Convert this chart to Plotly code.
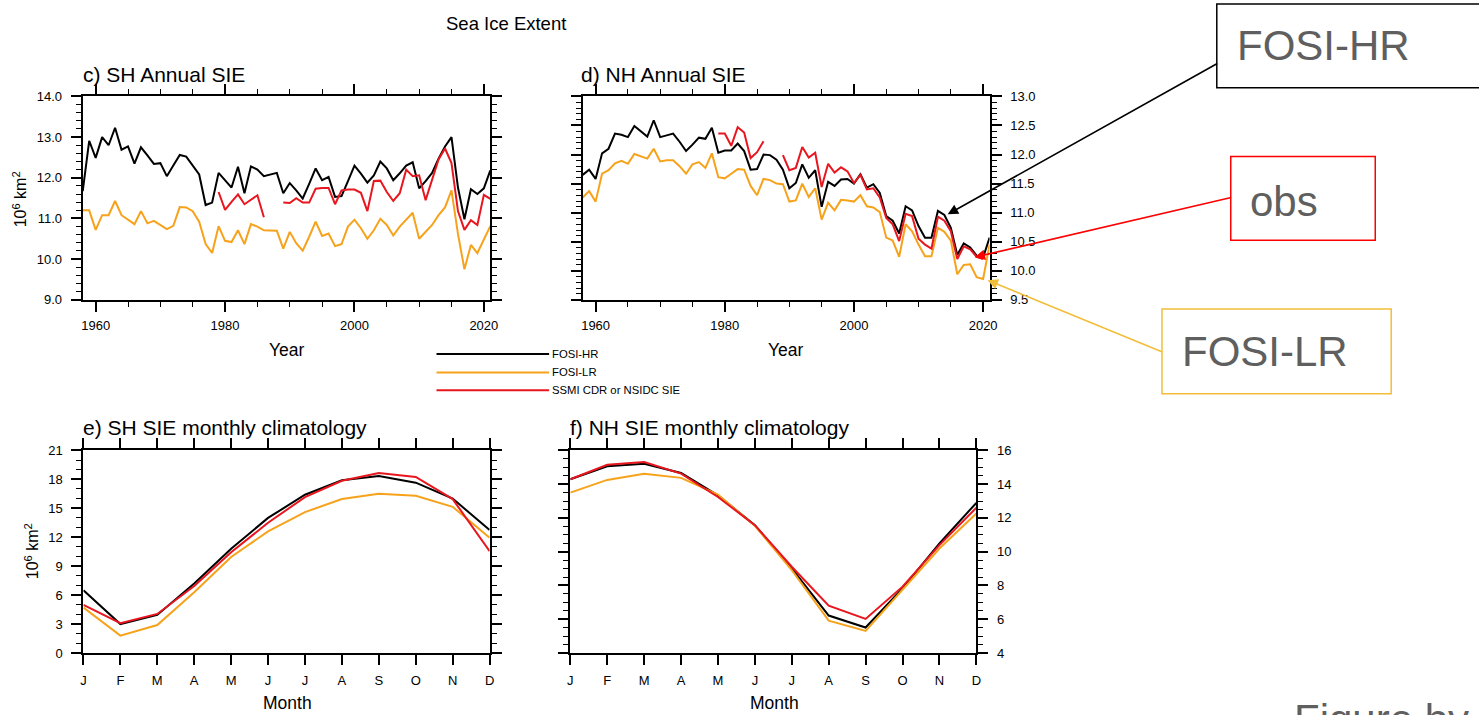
import plotly.graph_objects as go

W, H = 1479, 715
FONT = "Liberation Sans, Arial, Helvetica, sans-serif"

# small empirical correction between layout pixels and photographed pixels
SX, SY, OY = 0.996, 0.982, 7.0


def px(x):
    return (x / SX) / W


def py(y):
    return 1 - ((y - OY) / SY) / H


# ---------------- data ----------------
years = list(range(1958, 2022))

sh_hr = [11.67, 12.91, 12.49, 13.0, 12.8, 13.23, 12.69, 12.77, 12.35, 12.75,
         12.55, 12.34, 12.36, 12.04, 12.3, 12.56, 12.52, 12.3, 12.08, 11.33,
         11.39, 12.12, 11.94, 11.76, 12.27, 11.62, 12.28, 12.2, 12.04, 12.08,
         12.12, 11.62, 11.87, 11.69, 11.49, 11.85, 12.23, 11.94, 12.02, 11.53,
         11.55, 11.92, 12.3, 12.1, 11.88, 12.06, 12.4, 12.23, 11.94, 12.11,
         12.3, 12.38, 11.74, 11.92, 12.12, 12.47, 12.77, 13.0, 11.76, 10.98,
         11.72, 11.6, 11.74, 12.18]
sh_lr = [11.2, 11.2, 10.72, 11.08, 11.08, 11.43, 11.08, 10.98, 10.86, 11.18,
         10.88, 10.94, 10.84, 10.74, 10.82, 11.28, 11.27, 11.18, 10.92, 10.37,
         10.15, 10.81, 10.45, 10.42, 10.71, 10.37, 10.86, 10.8, 10.71, 10.7,
         10.7, 10.26, 10.67, 10.39, 10.21, 10.55, 10.92, 10.57, 10.63, 10.32,
         10.37, 10.8, 10.97, 10.76, 10.5, 10.71, 10.99, 10.84, 10.58, 10.8,
         10.98, 11.14, 10.5, 10.68, 10.84, 11.08, 11.27, 11.69, 10.62, 9.75,
         10.35, 10.15, 10.47, 10.81]
sh_obs = [None] * 21 + [11.65, 11.21, 11.41, 11.59, 11.35, 11.45, 11.57, 11.03,
                        None, None,
                        11.39, 11.38, 11.5, 11.39, 11.39, 11.73, 11.75, 11.75, 11.35, 11.69,
                        11.71, 11.71, 11.63, 11.18, 11.92, 11.93, 11.65, 11.43, 11.62, 12.2,
                        12.04, 12.06, 11.45, 11.96, 12.45, 12.72, 12.36, 11.18, 10.72, 10.96,
                        10.84, 11.58, 11.48]

nh_hr = [11.65, 11.74, 11.58, 12.02, 12.1, 12.36, 12.34, 12.3, 12.49, 12.4,
         12.31, 12.59, 12.3, 12.33, 12.36, 12.22, 12.06, 12.17, 12.29, 12.27,
         12.46, 12.03, 12.07, 12.07, 12.19, 12.06, 11.74, 11.75, 12.0, 11.99,
         11.91, 11.74, 11.42, 11.51, 11.83, 11.6, 11.73, 11.1, 11.53, 11.46,
         11.57, 11.58, 11.5, 11.66, 11.43, 11.49, 11.34, 10.94, 10.86, 10.64,
         11.11, 11.04, 10.77, 10.57, 10.57, 11.03, 10.96, 10.74, 10.27, 10.47,
         10.4, 10.26, 10.23, 10.57]
nh_lr = [11.26, 11.37, 11.19, 11.67, 11.73, 11.85, 11.89, 11.84, 12.01, 11.97,
         11.93, 12.1, 11.88, 11.9, 11.9, 11.8, 11.67, 11.83, 11.87, 11.77,
         12.02, 11.61, 11.59, 11.67, 11.75, 11.74, 11.46, 11.3, 11.58, 11.56,
         11.5, 11.49, 11.19, 11.21, 11.5, 11.27, 11.42, 10.88, 11.17, 11.04,
         11.22, 11.21, 11.19, 11.3, 11.11, 11.09, 11.01, 10.57, 10.52, 10.24,
         10.8, 10.68, 10.45, 10.25, 10.25, 10.74, 10.67, 10.52, 9.94, 10.1,
         10.11, 9.89, 9.86, 10.45]
nh_obs = [None] * 21 + [12.36, 12.36, 12.15, 12.47, 12.38, 11.94, 12.04, 12.23,
                        None, None,
                        11.99, 11.73, 11.77, 12.13, 11.95, 12.03, 11.44, 11.84, 11.69, 11.78,
                        11.71, 11.51, 11.65, 11.4, 11.42, 11.26, 10.91, 10.8, 10.51, 10.98,
                        10.94, 10.55, 10.45, 10.38, 10.93, 10.86, 10.68, 10.2, 10.42, 10.37,
                        10.24, 10.2, None]

months = list(range(1, 13))
month_labels = ["J", "F", "M", "A", "M", "J", "J", "A", "S", "O", "N", "D"]

sh_clim_hr = [6.5, 3.0, 3.95, 7.2, 10.8, 14.0, 16.4, 17.9, 18.35, 17.65, 16.0, 12.75]
sh_clim_lr = [4.7, 1.8, 2.9, 6.3, 9.95, 12.6, 14.6, 15.95, 16.5, 16.3, 15.15, 11.95]
sh_clim_obs = [5.0, 3.1, 4.05, 6.95, 10.45, 13.5, 16.15, 17.85, 18.65, 18.25, 15.95, 10.55]

nh_clim_hr = [14.29, 15.06, 15.21, 14.66, 13.34, 11.57, 9.01, 6.22, 5.51, 7.83, 10.49, 12.89]
nh_clim_lr = [13.5, 14.25, 14.62, 14.37, 13.38, 11.53, 8.91, 5.92, 5.31, 7.73, 10.19, 12.26]
nh_clim_obs = [14.29, 15.15, 15.31, 14.62, 13.24, 11.57, 9.11, 6.81, 6.02, 7.93, 10.39, 12.6]

series_names = ["FOSI-HR", "FOSI-LR", "SSMI CDR or NSIDC SIE"]
C_HR, C_LR, C_OBS = "#000000", "#F7A21B", "#E8161E"
colors = [C_HR, C_LR, C_OBS]

# ---------------- figure ----------------
fig = go.Figure()

panels = [
    ("x", "y", years, [sh_hr, sh_lr, sh_obs]),
    ("x2", "y2", years, [nh_hr, nh_lr, nh_obs]),
    ("x3", "y3", months, [sh_clim_hr, sh_clim_lr, sh_clim_obs]),
    ("x4", "y4", months, [nh_clim_hr, nh_clim_lr, nh_clim_obs]),
]
for xa, ya, xs, ser in panels:
    for ys, col, nm in zip(ser, colors, series_names):
        fig.add_trace(go.Scatter(x=xs, y=ys, xaxis=xa, yaxis=ya, mode="lines",
                                 name=nm, line=dict(color=col, width=2),
                                 connectgaps=False, showlegend=False,
                                 hoverinfo="skip"))

tickfont = dict(family=FONT, size=13, color="black")
common = dict(showline=True, linecolor="black", linewidth=2, mirror="allticks",
              ticks="outside", tickcolor="black", tickwidth=1.5, ticklen=10,
              showgrid=False, zeroline=False, tickfont=tickfont)


def minor(d, t0=None):
    m = dict(dtick=d, ticks="outside", ticklen=5, tickcolor="black",
             tickwidth=1.2, showgrid=False)
    if t0 is not None:
        m["tick0"] = t0
    return m


yr_x = dict(range=[1958, 2021], tick0=1960, dtick=20, minor=minor(5, 1960),
            ticklabelstandoff=3, **common)
mo_x = dict(range=[1, 12], tickmode="array", tickvals=months,
            ticktext=month_labels, ticklabelstandoff=4, **common)

fig.update_layout(
    width=W, height=H,
    margin=dict(l=0, r=0, t=0, b=0),
    paper_bgcolor="white", plot_bgcolor="white",
    showlegend=False,
    xaxis=dict(domain=[px(80), px(489)], anchor="y", **yr_x),
    yaxis=dict(domain=[py(300.7), py(96.7)], anchor="x", range=[9, 14],
               dtick=1, tickformat=".1f", minor=minor(0.2),
               ticklabelstandoff=6, **common),
    xaxis2=dict(domain=[px(581.7), px(990)], anchor="y2", **yr_x),
    yaxis2=dict(domain=[py(300.7), py(96.7)], anchor="x2", range=[9.5, 13],
                dtick=0.5, tickformat=".1f", minor=minor(0.1), side="right",
                ticklabelstandoff=6, **common),
    xaxis3=dict(domain=[px(80.7), px(488.3)], anchor="y3", **mo_x),
    yaxis3=dict(domain=[py(655), py(451.7)], anchor="x3", range=[0, 21],
                dtick=3, minor=minor(1), ticklabelstandoff=6, **common),
    xaxis4=dict(domain=[px(569.3), px(976.7)], anchor="y4", **mo_x),
    yaxis4=dict(domain=[py(655), py(451.7)], anchor="x4", range=[4, 16],
                dtick=2, minor=minor(0.5), side="right",
                ticklabelstandoff=6, **common),
)

ann = []
shapes = []


def text(x, y, s, size, xanchor="left", yanchor="middle", color="black", angle=0):
    ann.append(dict(x=px(x), y=py(y), xref="paper", yref="paper", text=s,
                    showarrow=False, xanchor=xanchor, yanchor=yanchor,
                    textangle=angle,
                    font=dict(family=FONT, size=size, color=color)))


# titles
text(505, 24, "Sea Ice Extent", 18.5, xanchor="center")
text(78, 75, "c) SH Annual SIE", 21)
text(578, 75, "d) NH Annual SIE", 21)
text(78, 429, "e) SH SIE monthly climatology", 21)
text(567, 429, "f) NH SIE monthly climatology", 21)
# axis titles
text(285, 351, "Year", 17.5, xanchor="center")
text(786, 351, "Year", 17.5, xanchor="center")
text(285, 705, "Month", 17.5, xanchor="center")
text(774, 705, "Month", 17.5, xanchor="center")
text(17, 200, "10<sup>6</sup> km<sup>2</sup>", 16, xanchor="center", angle=-90)
text(29, 553, "10<sup>6</sup> km<sup>2</sup>", 16, xanchor="center", angle=-90)

# legend (lines + labels)
for yy, col, nm in zip([355, 373.5, 391.5], colors, series_names):
    shapes.append(dict(type="line", xref="paper", yref="paper",
                       x0=px(435), x1=px(548), y0=py(yy), y1=py(yy),
                       line=dict(color=col, width=2)))
    text(549, yy, nm, 11.3)

# call-out boxes
GRAY = "#5F5F5F"
GOLD = "#F2BE3A"
shapes.append(dict(type="rect", xref="paper", yref="paper",
                   x0=px(1218), x1=px(1495), y0=py(88), y1=py(4),
                   line=dict(color="black", width=1.5), fillcolor="white"))
shapes.append(dict(type="rect", xref="paper", yref="paper",
                   x0=px(1232), x1=px(1377), y0=py(241), y1=py(157),
                   line=dict(color="#FF0000", width=1.5), fillcolor="white"))
shapes.append(dict(type="rect", xref="paper", yref="paper",
                   x0=px(1163), x1=px(1393), y0=py(395), y1=py(310),
                   line=dict(color=GOLD, width=1.5), fillcolor="white"))
text(1236, 46, "FOSI-HR", 42, color=GRAY)
text(1249, 202, "obs", 42, color=GRAY)
text(1181, 353, "FOSI-LR", 42, color=GRAY)
text(1293, 696, "Figure by", 42, color=GRAY, yanchor="top")


def arrow(hx, hy, tx, ty, col):
    ann.append(dict(x=px(hx), y=py(hy), xref="paper", yref="paper", text="",
                    showarrow=True, ax=(tx - hx) / SX, ay=(ty - hy) / SY,
                    arrowhead=2, arrowsize=1.3, arrowwidth=1.6,
                    arrowcolor=col, standoff=0))


arrow(948, 215, 1218, 66, "black")
arrow(975, 258, 1232, 199, "#FF0000")
arrow(988, 281, 1163, 352, GOLD)

fig.update_layout(annotations=ann, shapes=shapes)
fig.write_html("out.html", config={"displayModeBar": False},
               post_script="document.body.style.margin='0px';"
                           "document.body.style.overflow='hidden';")
